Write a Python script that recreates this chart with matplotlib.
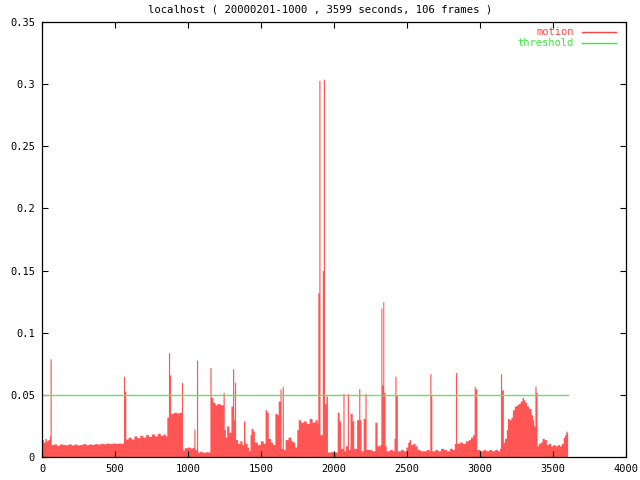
import numpy as np
import matplotlib
matplotlib.use("Agg")
import matplotlib.pyplot as plt
from matplotlib.lines import Line2D

# motion level per time segment (step, value holds until next second mark)
seconds = [0, 10, 20, 30, 40, 50, 55, 63,
           80, 100, 120, 140, 160, 180, 200, 220, 240, 260, 280, 300, 320, 340, 360, 380,
           400, 420, 440, 460, 480, 500, 520, 540, 552,
           558, 566, 574,
           590, 610, 630, 650, 670, 690, 710, 730, 750, 770, 790, 810, 830, 845,
           855, 866, 874, 881, 900, 920, 940, 955, 963, 975, 995, 1015, 1030, 1040, 1048,
           1058, 1066, 1080, 1100, 1120, 1140,
           1150, 1158, 1170, 1185, 1200, 1220, 1240, 1248, 1256, 1265, 1280, 1294, 1305,
           1313, 1318, 1326, 1340, 1355, 1370, 1380, 1390, 1405, 1415, 1425, 1432, 1445,
           1455, 1475, 1495, 1515, 1528, 1540, 1550, 1565, 1580, 1595, 1610, 1618, 1630,
           1638, 1645, 1653, 1665, 1685, 1705, 1720, 1730, 1745, 1755, 1770, 1790, 1810,
           1830, 1850, 1870, 1885,
           1889, 1896, 1904, 1915, 1920, 1927, 1935, 1945, 1955, 1980, 2005, 2022, 2035,
           2045, 2061, 2069, 2078, 2091, 2099, 2110, 2125, 2135, 2155, 2169, 2177, 2185,
           2200, 2212, 2220, 2240, 2260, 2280, 2295, 2315, 2321, 2328, 2334, 2341, 2350,
           2358, 2380, 2400, 2411, 2417, 2425, 2434, 2455, 2475, 2492, 2505, 2515, 2525,
           2540, 2555, 2570, 2590, 2610, 2630, 2650, 2656, 2664, 2670, 2690, 2710, 2730,
           2750, 2770, 2790, 2810, 2824, 2832, 2840, 2860, 2880, 2900, 2920, 2935, 2950,
           2960, 2967, 2978, 3000, 3020, 3040, 3060, 3080, 3100, 3120, 3134, 3140, 3148,
           3160, 3168, 3180, 3188, 3200, 3212, 3222, 3235, 3250, 3262, 3275, 3288, 3298,
           3308, 3320, 3335, 3350, 3360, 3368, 3376, 3384, 3391, 3400, 3412, 3425, 3440,
           3455, 3470, 3485, 3500, 3515, 3530, 3545, 3558, 3570, 3580, 3588, 3594, 3600]

motion = [0.014, 0.012, 0.015, 0.013, 0.014, 0.017, 0.079, 0.010,
          0.0105, 0.0095, 0.0105, 0.010, 0.0098, 0.0106, 0.0098, 0.0104, 0.0097, 0.0102,
          0.0108, 0.0099, 0.0105, 0.0102, 0.0108, 0.0104,
          0.011, 0.0106, 0.0112, 0.0108, 0.0113, 0.0109, 0.0112, 0.0108, 0.0115,
          0.065, 0.053, 0.0145,
          0.016, 0.0145, 0.017, 0.0155, 0.0175, 0.016, 0.018, 0.0165, 0.0185, 0.017, 0.019,
          0.0175, 0.0185, 0.017,
          0.032, 0.084, 0.066, 0.035, 0.036, 0.0355, 0.036, 0.060, 0.0056, 0.0075, 0.008,
          0.0072, 0.0078, 0.0225, 0.006,
          0.078, 0.004, 0.0045, 0.0038, 0.0042, 0.004,
          0.072, 0.048, 0.044, 0.042, 0.043, 0.042, 0.052, 0.022, 0.016, 0.025, 0.020,
          0.041, 0.071,
          0.030, 0.060, 0.014, 0.011, 0.013, 0.010, 0.029, 0.011, 0.008, 0.005, 0.018,
          0.023, 0.021,
          0.012, 0.010, 0.013, 0.011, 0.038, 0.036, 0.015, 0.012, 0.010, 0.035, 0.034,
          0.045, 0.0547,
          0.007, 0.0566, 0.006, 0.014, 0.016, 0.013, 0.012, 0.008, 0.022, 0.030, 0.028,
          0.029, 0.027,
          0.031, 0.028, 0.030, 0.027,
          0.132, 0.303, 0.018, 0.018, 0.150, 0.304, 0.043, 0.049, 0.004, 0.0045, 0.004,
          0.036, 0.029,
          0.007, 0.051, 0.005, 0.009, 0.051, 0.006, 0.035, 0.029, 0.007, 0.030, 0.055,
          0.030, 0.005,
          0.031, 0.051, 0.006, 0.006, 0.005, 0.028, 0.009, 0.010, 0.120, 0.058, 0.125,
          0.052, 0.009,
          0.005, 0.006, 0.005, 0.015, 0.065, 0.050, 0.005, 0.006, 0.005, 0.008, 0.012,
          0.014, 0.010,
          0.011, 0.009, 0.006, 0.005, 0.005, 0.006, 0.005, 0.067, 0.050, 0.005, 0.006,
          0.005, 0.007,
          0.006, 0.005, 0.007, 0.006, 0.011, 0.068, 0.011, 0.012, 0.011, 0.013, 0.014,
          0.016, 0.018,
          0.057, 0.055, 0.006, 0.005, 0.006, 0.005, 0.006, 0.005, 0.006, 0.005, 0.007,
          0.067, 0.054,
          0.012, 0.015, 0.022, 0.031, 0.030, 0.032, 0.038, 0.041, 0.042, 0.043, 0.045,
          0.048, 0.046,
          0.044, 0.041, 0.039, 0.034, 0.030, 0.025, 0.057, 0.052, 0.009, 0.011, 0.012,
          0.015, 0.014,
          0.010, 0.011, 0.009, 0.010, 0.009, 0.010, 0.009, 0.011, 0.016, 0.018, 0.021,
          0.020, 0.020]

threshold = 0.05
x_ticks = [0, 500, 1000, 1500, 2000, 2500, 3000, 3500, 4000]
y_ticks = [0, 0.05, 0.1, 0.15, 0.2, 0.25, 0.3, 0.35]
y_labels = ["0", "0.05", "0.1", "0.15", "0.2", "0.25", "0.3", "0.35"]

red = "#ff5555"
green = "#66e066"
mono = "DejaVu Sans Mono"

fig = plt.figure(figsize=(6.4, 4.8), dpi=100)
ax = fig.add_axes([42 / 640, 23 / 480, 584 / 640, 435 / 480])

ax.fill_between(seconds, motion, 0, step="post", color=red, linewidth=0,
                antialiased=False)
ax.plot([0, seconds[-1]], [threshold, threshold], color=green, linewidth=1)

ax.set_xlim(0, 4000)
ax.set_ylim(0, 0.35)
ax.set_xticks(x_ticks)
ax.set_xticklabels([str(t) for t in x_ticks])
ax.set_yticks(y_ticks)
ax.set_yticklabels(y_labels)
ax.tick_params(direction="in", length=4.3, width=0.8, top=True, right=True,
               labelsize=7.5, pad=5)
for lab in ax.get_xticklabels() + ax.get_yticklabels():
    lab.set_family(mono)
for sp in ax.spines.values():
    sp.set_linewidth(0.9)

fig.text(0.5, 1 - 10 / 480, "localhost ( 20000201-1000 , 3599 seconds, 106 frames )",
         ha="center", va="center", fontsize=7.6, family=mono)

# legend, gnuplot style (text then sample line)
ax.text(0.911, 0.978, "motion", transform=ax.transAxes, ha="right", va="center",
        fontsize=7.5, family=mono, color="#ff4444")
ax.add_line(Line2D([0.9247, 0.983], [0.978, 0.978], transform=ax.transAxes,
                   color="#ff4444", linewidth=1))
ax.text(0.911, 0.952, "threshold", transform=ax.transAxes, ha="right", va="center",
        fontsize=7.5, family=mono, color="#33ee33")
ax.add_line(Line2D([0.9247, 0.983], [0.952, 0.952], transform=ax.transAxes,
                   color="#33ee33", linewidth=1))

fig.savefig("out.png", dpi=100)
